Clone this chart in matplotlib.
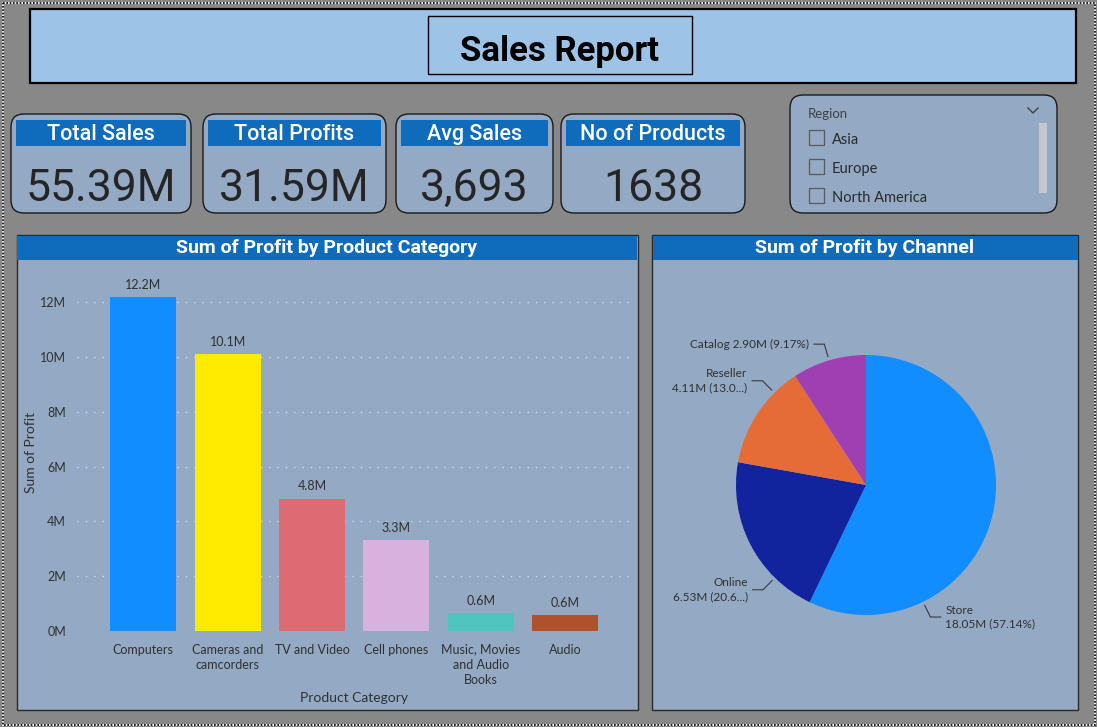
import numpy as np
import matplotlib.pyplot as plt
from matplotlib.patches import FancyBboxPatch, Rectangle

W, H = 1097, 727

# ---- data ----
kpi_titles = ['Total Sales', 'Total Profits', 'Avg Sales', 'No of Products']
kpi_values = ['55.39M', '31.59M', '3,693', '1638']
regions = ['Asia', 'Europe', 'North America']

categories = ['Computers', 'Cameras and\ncamcorders', 'TV and Video', 'Cell phones',
              'Music, Movies\nand Audio\nBooks', 'Audio']
profit_m = [12.18, 10.1, 4.83, 3.31, 0.64, 0.57]
cat_colors = ['#118DFF', '#FFEB00', '#DE6A73', '#D9B1DE', '#4EC6BE', '#B0512C']
y_ticks = [0, 2, 4, 6, 8, 10, 12]

channels = ['Store', 'Online', 'Reseller', 'Catalog']
channel_profit_m = [18.05, 6.53, 4.11, 2.90]
channel_labels = ['Store\n18.05M (57.14%)', 'Online\n6.53M (20.6...)',
                  'Reseller\n4.11M (13.0...)', 'Catalog 2.90M (9.17%)']
channel_colors = ['#118DFF', '#12239E', '#E66C37', '#A03FB2']

# ---- style ----
plt.rcParams['font.family'] = ['Lato', 'DejaVu Sans']
BG = '#888888'
PANEL = '#94AAC4'
STRIP = '#0F6CBD'
TXT = '#303030'


def box(x0, y0, x1, y1):
    # pixel box (top-left origin) -> figure fraction
    return [x0 / W, 1 - y1 / H, (x1 - x0) / W, (y1 - y0) / H]


fig = plt.figure(figsize=(W / 100, H / 100), dpi=100, facecolor=BG)
bg = fig.add_axes([0, 0, 1, 1])
bg.set_xlim(0, W)
bg.set_ylim(H, 0)
bg.axis('off')

# dotted frame around the page
bg.add_patch(Rectangle((2.5, 2.5), W - 5, H - 5, fill=False, ec='white', lw=1.2))
bg.add_patch(Rectangle((2.5, 2.5), W - 5, H - 5, fill=False, ec='black', lw=1.2, ls=(0, (1, 1))))

# header
bg.add_patch(Rectangle((30, 8.5), 1046, 74.5, fc='#9DC3E6', ec='black', lw=1.6))
bg.add_patch(Rectangle((427.5, 15.5), 264.5, 58.5, fc='#9DC3E6', ec='black', lw=1))
bg.text(560, 61, 'Sales Report', family='Roboto', weight='bold', fontsize=25,
        ha='center', va='baseline', color='black')

# KPI cards
cards = [(11, 191), (203, 386), (396, 553), (561, 745)]
for (x0, x1), t, v in zip(cards, kpi_titles, kpi_values):
    bg.add_patch(FancyBboxPatch((x0, 114), x1 - x0, 99, boxstyle='round,pad=0,rounding_size=13',
                                fc=PANEL, ec='#1a1a1a', lw=1))
    bg.add_patch(Rectangle((x0 + 5, 119.5), x1 - x0 - 10, 26.5, fc=STRIP, ec='none'))
    bg.text((x0 + x1) / 2, 140, t, family='Roboto', weight='medium', fontsize=15.5,
            color='white', ha='center', va='baseline')
    bg.text((x0 + x1) / 2, 201, v, family='Roboto', fontsize=32,
            color='#252525', ha='center', va='baseline')

# region slicer
bg.add_patch(FancyBboxPatch((790, 95), 267, 118, boxstyle='round,pad=0,rounding_size=13',
                            fc=PANEL, ec='#1a1a1a', lw=1))
bg.text(808, 118, 'Region', fontsize=9.5, color='#404040', va='baseline')
bg.plot([1028, 1033, 1038], [108, 113, 108], color='#404040', lw=1)
bg.add_patch(Rectangle((1039, 123), 8, 70, fc='#C4C8CC', ec='none'))
for i, r in enumerate(regions):
    y = 130 + i * 29
    bg.add_patch(Rectangle((808.5, y), 15, 15, fill=False, ec='#5a5a5a', lw=0.9))
    bg.text(832, y + 14, r, fontsize=10.5, color='#2a2a2a', va='baseline')

# chart panels
panels = [(16.5, 637.5, 'Sum of Profit by Product Category'),
          (652, 1078, 'Sum of Profit by Channel')]
for x0, x1, t in panels:
    bg.add_patch(Rectangle((x0, 235), x1 - x0, 474.5, fc=PANEL, ec='#2a2a2a', lw=1))
    bg.add_patch(Rectangle((x0 + 0.5, 235.5), x1 - x0 - 1, 24, fc=STRIP, ec='none'))
    bg.text((x0 + x1) / 2, 248, t, family='Roboto', weight='bold', fontsize=14,
            color='white', ha='center', va='center')

# ---- bar chart ----
ax = fig.add_axes(box(77, 280, 630, 631))
ax.set_facecolor('none')
x = np.arange(len(categories))
ax.bar(x, profit_m, width=0.78, color=cat_colors, zorder=2)
for xi, v in zip(x, profit_m):
    ax.annotate(f'{v:.1f}M', (xi, v), xytext=(0, 9), textcoords='offset points',
                ha='center', va='center', fontsize=9, color=TXT)
ax.set_xlim(-0.786, 5.77)
ax.set_ylim(0, 12.81)
ax.set_yticks(y_ticks)
ax.set_yticklabels([f'{t}M' for t in y_ticks])
ax.set_xticks(x)
ax.set_xticklabels(categories, linespacing=1.35)
ax.tick_params(axis='both', length=0, labelsize=9, labelcolor=TXT)
ax.tick_params(axis='y', pad=8)
ax.tick_params(axis='x', pad=9)
for lab in ax.get_xticklabels():
    lab.set_va('top')
ax.grid(axis='y', color='#D0D9E4', ls=(0, (1, 5)), lw=1, zorder=0)
for s in ax.spines.values():
    s.set_visible(False)
bg.text(354, 698, 'Product Category', fontsize=10, color=TXT, ha='center', va='center')
bg.text(31, 452, 'Sum of Profit', fontsize=10, color=TXT, ha='center', va='center', rotation=90)

# ---- pie chart ----
cx, cy, rad = 866, 485, 130
pax = fig.add_axes(box(652, 260, 1078, 710))
pax.pie(channel_profit_m, colors=channel_colors, startangle=90, counterclock=False,
        wedgeprops=dict(linewidth=0))
pax.set_aspect('auto')
pax.set_xlim((652 - cx) / rad, (1078 - cx) / rad)
pax.set_ylim((cy - 710) / rad, (cy - 260) / rad)
pax.axis('off')

leader_angles = [-64.0, 225.5, 134.8, 106.5]
sides = [1, -1, -1, -1]
for lab, ang, sd in zip(channel_labels, leader_angles, sides):
    a = np.deg2rad(ang)
    p0 = 1.03 * np.array([np.cos(a), np.sin(a)])
    p1 = 1.13 * np.array([np.cos(a), np.sin(a)])
    p2 = p1 + np.array([0.08 * sd, 0])
    pax.plot([p0[0], p1[0], p2[0]], [p0[1], p1[1], p2[1]], color='#3a3a3a', lw=0.8)
    pax.text(p2[0] + 0.035 * sd, p2[1], lab, fontsize=8.5, color=TXT, linespacing=1.3,
             ha='left' if sd > 0 else 'right', va='center',
             multialignment='left' if sd > 0 else 'right')

fig.savefig('out.png', dpi=100, facecolor=BG)
